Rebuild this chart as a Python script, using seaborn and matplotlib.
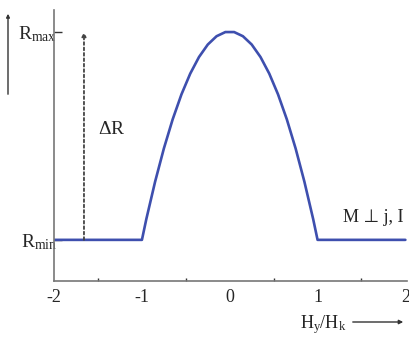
import matplotlib

matplotlib.use("Agg")

import matplotlib.pyplot as plt
import pandas as pd
import seaborn as sns

# field ratio H_y/H_k and normalised resistance (0 = R_min, 1 = R_max)
field = [-2.0, -1.0, -0.95, -0.9, -0.85, -0.8, -0.75, -0.7, -0.65, -0.6, -0.55, -0.5,
         -0.45, -0.4, -0.35, -0.3, -0.25, -0.2, -0.15, -0.1, -0.05, 0.0,
         0.05, 0.1, 0.15, 0.2, 0.25, 0.3, 0.35, 0.4, 0.45, 0.5,
         0.55, 0.6, 0.65, 0.7, 0.75, 0.8, 0.85, 0.9, 0.95, 1.0, 2.0]
resistance = [0.0, 0.0, 0.10, 0.19, 0.28, 0.36, 0.44, 0.51, 0.58, 0.64, 0.70, 0.75,
              0.80, 0.84, 0.88, 0.91, 0.94, 0.96, 0.98, 0.99, 1.0, 1.0,
              1.0, 0.99, 0.98, 0.96, 0.94, 0.91, 0.88, 0.84, 0.80, 0.75,
              0.70, 0.64, 0.58, 0.51, 0.44, 0.36, 0.28, 0.19, 0.10, 0.0, 0.0]
xticks = [-2, -1, 0, 1, 2]
xtick_labels = ["-2", "-1", "0", "1", "2"]
minor_ticks = [-1.5, -0.5, 0.5, 1.5]
ylevels = [0, 1]
ylevel_labels = [r"R$_{\mathrm{min}}$", r"R$_{\mathrm{max}}$"]
delta_x = -1.66

sns.set_theme(style="white")
plt.rcParams["font.family"] = ["Liberation Serif", "DejaVu Serif"]
plt.rcParams["mathtext.fontset"] = "custom"
plt.rcParams["mathtext.rm"] = "Liberation Serif"
plt.rcParams["mathtext.it"] = "Liberation Serif:italic"

df = pd.DataFrame({"h": field, "r": resistance})

fig = plt.figure(figsize=(4.1, 3.4), dpi=100)
ax = fig.add_axes([0.132, 0.1735, 0.861, 0.797])
sns.lineplot(data=df, x="h", y="r", color="#3e4fae", linewidth=1.9, ax=ax)

ax.set_xlim(-2, 2.02)
ax.set_ylim(-0.198, 1.106)
sns.despine(ax=ax)
for side in ("left", "bottom"):
    ax.spines[side].set_color("#777777")
    ax.spines[side].set_linewidth(1.2)

ax.set_xticks(xticks)
ax.set_xticklabels(xtick_labels, fontsize=13)
ax.set_xticks(minor_ticks, minor=True)
ax.tick_params(axis="x", which="major", direction="in", length=5, width=1, color="#333333", pad=6)
ax.tick_params(axis="x", which="minor", direction="in", length=2, width=1, color="#333333", bottom=True)
ax.set_yticks(ylevels)
ax.set_yticklabels(ylevel_labels, fontsize=14)
ax.tick_params(axis="y", direction="in", length=6, width=1, color="#333333", pad=-2, left=True)
ax.set_xlabel("")
ax.set_ylabel("")

# dotted Delta R arrow
ax.annotate("", xy=(delta_x, 1.0), xytext=(delta_x, 0.0),
            arrowprops=dict(arrowstyle="-|>", linestyle=(0, (1.5, 1.5)), color="#444444",
                            lw=1.3, mutation_scale=6, shrinkA=0, shrinkB=0))
ax.text(delta_x + 0.16, 0.53, r"$\Delta$R", fontsize=14, va="center", ha="left")
ax.text(1.98, 0.11, "M ⊥ j, I", fontsize=13, va="center", ha="right",
        family=["Liberation Serif", "DejaVu Sans"])

# x-axis label with arrow
fig.text(300 / 410, 1 - 325 / 340, r"H$_{\mathrm{y}}$/H$_{\mathrm{k}}$", fontsize=13,
         va="center", ha="left")
fig.add_artist(matplotlib.patches.FancyArrowPatch(
    (350 / 410, 1 - 322 / 340), (406 / 410, 1 - 322 / 340), transform=fig.transFigure,
    arrowstyle="-|>", mutation_scale=6, color="#333333", lw=1.0))

# y-axis direction arrow
fig.add_artist(matplotlib.patches.FancyArrowPatch(
    (8 / 410, 1 - 97 / 340), (8 / 410, 1 - 11 / 340), transform=fig.transFigure,
    arrowstyle="-|>", mutation_scale=5, color="#333333", lw=1.0))

fig.savefig("out.png", dpi=100, facecolor="white")
plt.close(fig)
